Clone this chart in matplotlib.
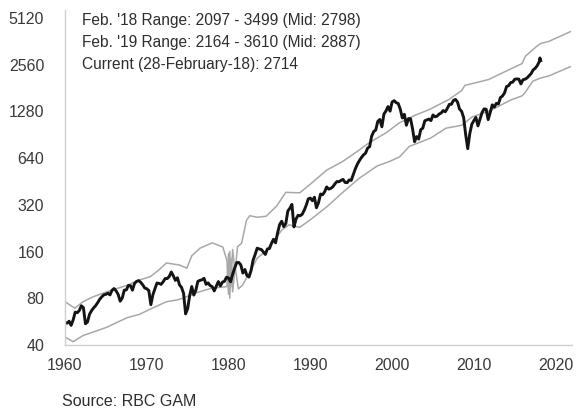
import numpy as np
import matplotlib.pyplot as plt

plt.rcParams['font.family'] = ['Liberation Sans', 'DejaVu Sans']

# S&P 500 closes: Jan 1960, then quarter ends Mar 1960 .. Dec 2017, then Jan/Feb 2018
spx_quarterly = [
    55.6,
    55.3, 56.9, 53.5, 58.1,        # 1960
    65.1, 64.6, 66.7, 71.6,        # 1961
    69.6, 54.8, 56.3, 63.1,        # 1962
    66.6, 69.4, 71.7, 75.0,        # 1963
    78.9, 81.7, 84.2, 84.8,        # 1964
    86.2, 84.1, 90.0, 92.4,        # 1965
    89.2, 84.7, 76.6, 80.3,        # 1966
    90.2, 90.6, 96.7, 96.5,        # 1967
    90.2, 99.6, 102.7, 103.9,      # 1968
    101.5, 97.7, 93.1, 92.1,       # 1969
    89.6, 72.7, 84.3, 92.2,        # 1970
    100.3, 99.7, 98.3, 102.1,      # 1971
    107.2, 107.1, 110.6, 118.1,    # 1972
    111.5, 104.3, 108.4, 97.6,     # 1973
    94.0, 86.0, 63.5, 68.6,        # 1974
    83.4, 95.2, 83.9, 90.2,        # 1975
    102.8, 104.3, 105.2, 107.5,    # 1976
    98.4, 100.5, 96.5, 95.1,       # 1977
    89.2, 95.5, 102.5, 96.1,       # 1978
    101.6, 102.9, 109.3, 107.9,    # 1979
    102.1, 114.2, 125.5, 135.8,    # 1980
    136.0, 131.2, 116.2, 122.6,    # 1981
    112.0, 109.6, 120.4, 140.6,    # 1982
    153.0, 168.1, 166.1, 164.9,    # 1983
    159.2, 153.2, 166.1, 167.2,    # 1984
    180.7, 191.9, 182.1, 211.3,    # 1985
    238.9, 250.8, 231.3, 242.2,    # 1986
    291.7, 304.0, 321.8, 230.3,    # 1987
    258.9, 273.5, 271.9, 277.7,    # 1988
    294.9, 318.0, 349.2, 353.4,    # 1989
    339.9, 358.0, 306.1, 330.2,    # 1990
    375.2, 371.2, 387.9, 417.1,    # 1991
    403.7, 408.1, 417.8, 435.7,    # 1992
    451.7, 450.5, 458.9, 466.5,    # 1993
    445.8, 444.3, 462.7, 459.3,    # 1994
    500.7, 544.8, 584.4, 615.9,    # 1995
    645.5, 670.6, 687.3, 740.7,    # 1996
    757.1, 885.1, 947.3, 970.4,    # 1997
    1101.8, 1133.8, 1017.0, 1229.2,  # 1998
    1286.4, 1372.7, 1282.7, 1469.3,  # 1999
    1498.6, 1454.6, 1436.5, 1320.3,  # 2000
    1160.3, 1224.4, 1040.9, 1148.1,  # 2001
    1147.4, 989.8, 815.3, 879.8,     # 2002
    848.2, 974.5, 996.0, 1111.9,     # 2003
    1126.2, 1140.8, 1114.6, 1211.9,  # 2004
    1180.6, 1191.3, 1228.8, 1248.3,  # 2005
    1294.8, 1270.2, 1335.9, 1418.3,  # 2006
    1420.9, 1503.4, 1526.8, 1468.4,  # 2007
    1322.7, 1280.0, 1166.4, 903.3,   # 2008
    735.1, 919.3, 1057.1, 1115.1,    # 2009
    1169.4, 1030.7, 1141.2, 1257.6,  # 2010
    1325.8, 1320.6, 1131.4, 1257.6,  # 2011
    1408.5, 1362.2, 1440.7, 1426.2,  # 2012
    1569.2, 1606.3, 1681.6, 1848.4,  # 2013
    1872.3, 1960.2, 1972.3, 2058.9,  # 2014
    2067.9, 2063.1, 1920.0, 2043.9,  # 2015
    2059.7, 2098.9, 2168.3, 2238.8,  # 2016
    2362.7, 2423.4, 2519.4, 2673.6,  # 2017
    2823.8, 2714.0,                  # Jan, Feb 2018
]
spx_years = np.concatenate([[1960.0], np.arange(1, 233) * 0.25 + 1960.0, [2018.08, 2018.17]])

# valuation channel, upper bound
upper_years = [1960.0, 1961.2, 1962.2, 1963.5, 1965.1, 1967.6, 1969.1, 1970.4, 1971.5,
               1972.4, 1974.0, 1974.9, 1975.5, 1976.5, 1978.0, 1979.3, 1979.8, 1980.0,
               1980.15, 1980.3, 1980.5, 1980.8, 1981.1, 1981.6, 1982.2, 1982.6, 1983.5,
               1984.6, 1985.9, 1987.0, 1988.7, 1989.9, 1992.0, 1993.9, 1995.6, 1997.2,
               1999.3, 2000.9, 2002.9, 2004.5, 2007.0, 2008.5, 2008.9, 2011.8, 2013.0,
               2015.9, 2016.3, 2017.7, 2018.17, 2019.17, 2021.8]
upper_vals = [76, 69, 76, 82, 88, 97, 105, 110, 122,
              135, 131, 125, 150, 168, 182, 171, 140, 85,
              160, 95, 165, 118, 172, 181, 255, 272, 266,
              270, 315, 385, 382, 430, 535, 606, 697, 803,
              933, 1080, 1213, 1310, 1530, 1740, 1880, 2050, 2200,
              2600, 2900, 3360, 3499, 3610, 4170]

# valuation channel, lower bound
lower_years = [1960.0, 1961.0, 1962.2, 1965.1, 1967.6, 1969.1, 1970.4, 1972.4, 1973.7,
               1974.4, 1976.1, 1978.0, 1979.8, 1980.0, 1980.15, 1980.3, 1980.5, 1980.8,
               1981.2, 1981.7, 1982.5, 1983.5, 1984.5, 1985.5, 1986.5, 1987.4, 1988.7,
               1989.9, 1992.0, 1993.9, 1996.0, 1998.2, 1999.6, 2000.9, 2002.1, 2004.7,
               2006.6, 2008.5, 2009.8, 2011.8, 2014.6, 2015.9, 2016.3, 2017.2, 2018.17,
               2019.17, 2021.8]
lower_vals = [45, 42, 46, 52, 60, 63, 68, 76, 78,
              80, 87, 93, 95, 155, 80, 145, 88, 128,
              92, 97, 115, 145, 160, 185, 220, 238, 229,
              254, 310, 382, 475, 570, 606, 650, 760, 860,
              997, 1040, 1179, 1280, 1520, 1610, 1700, 2000, 2097,
              2164, 2480]

y_ticks = [40, 80, 160, 320, 640, 1280, 2560, 5120]
x_ticks = [1960, 1970, 1980, 1990, 2000, 2010, 2020]

notes = [
    "Feb. '18 Range: 2097 - 3499 (Mid: 2798)",
    "Feb. '19 Range: 2164 - 3610 (Mid: 2887)",
    "Current (28-February-18): 2714",
]

fig = plt.figure(figsize=(5.77, 4.15), dpi=100)
ax = fig.add_axes([65 / 577, 70 / 415, 507 / 577, 335 / 415])

grey = '#a8a8a8'
ax.plot(upper_years, upper_vals, color=grey, lw=1.1)
ax.plot(lower_years, lower_vals, color=grey, lw=1.1)
ax.plot(spx_years, spx_quarterly, color='#141414', lw=2.1, solid_joinstyle='round')

ax.set_yscale('log', base=2)
ax.set_ylim(40, 5750)
ax.set_xlim(1960, 2022)
ax.set_yticks(y_ticks)
ax.set_yticklabels([str(t) for t in y_ticks])
ax.minorticks_off()
ax.set_xticks(x_ticks)
ax.set_xticklabels([str(t) for t in x_ticks])
ax.tick_params(length=0, labelsize=11.5, labelcolor='#3a3a3a')
ax.tick_params(axis='y', pad=15)
ax.tick_params(axis='x', pad=9)

for side in ['top', 'right']:
    ax.spines[side].set_visible(False)
for side in ['left', 'bottom']:
    ax.spines[side].set_color('#cfcfcf')
    ax.spines[side].set_linewidth(1.0)

for i, line in enumerate(notes):
    fig.text(82 / 577, 1 - (20 + 22 * i) / 415, line, fontsize=11.2,
             color='#2e2e2e', va='center', ha='left')

fig.text(62 / 577, 1 - 401 / 415, "Source: RBC GAM", fontsize=11.5,
         color='#2e2e2e', va='center', ha='left')

fig.savefig('out.png', dpi=100)
